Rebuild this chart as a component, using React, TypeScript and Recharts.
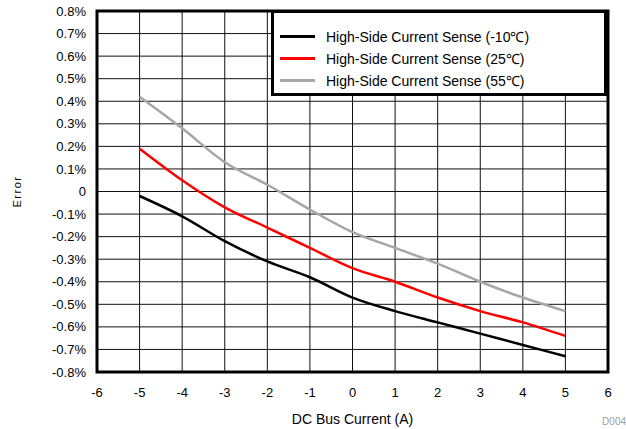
import React from 'react';
import {
  LineChart,
  Line,
  XAxis,
  YAxis,
  CartesianGrid,
  Legend,
  ReferenceArea,
  Label,
} from 'recharts';

// DC bus current (A)
const currents = [-5, -4, -3, -2, -1, 0, 1, 2, 3, 4, 5];

// error in %
const errMinus10 = [-0.02, -0.11, -0.22, -0.31, -0.38, -0.47, -0.53, -0.58, -0.63, -0.68, -0.73];
const err25 = [0.19, 0.05, -0.07, -0.16, -0.25, -0.34, -0.4, -0.47, -0.53, -0.58, -0.64];
const err55 = [0.42, 0.28, 0.13, 0.03, -0.08, -0.18, -0.25, -0.32, -0.4, -0.47, -0.53];

const xTicks = [-6, -5, -4, -3, -2, -1, 0, 1, 2, 3, 4, 5, 6];
const yTicks = [-0.8, -0.7, -0.6, -0.5, -0.4, -0.3, -0.2, -0.1, 0, 0.1, 0.2, 0.3, 0.4, 0.5, 0.6, 0.7, 0.8];

const seriesList = [
  { key: 'm10', name: 'High-Side Current Sense (-10℃)', color: '#000000', values: errMinus10 },
  { key: 'p25', name: 'High-Side Current Sense (25℃)', color: '#ff0000', values: err25 },
  { key: 'p55', name: 'High-Side Current Sense (55℃)', color: '#a6a6a6', values: err55 },
];

const FONT = '"Liberation Sans", Arial, sans-serif';

const rows = currents.map((c, i) => {
  const row: Record<string, number> = { current: c };
  seriesList.forEach(s => {
    row[s.key] = s.values[i];
  });
  return row;
});

const formatPct = (v: number) => {
  if (Math.abs(v) < 1e-9) return '0';
  return `${Number(v.toFixed(1))}%`;
};

const LegendBox = () => (
  <div
    style={{
      width: 336,
      height: 86,
      boxSizing: 'border-box',
      border: '3px solid #000',
      background: '#fff',
      paddingTop: 12,
      fontFamily: FONT,
    }}
  >
    {seriesList.map(s => (
      <div key={s.key} style={{ display: 'flex', alignItems: 'center', height: 22 }}>
        <div style={{ width: 35, height: 3, background: s.color, marginLeft: 6, marginRight: 11 }} />
        <span style={{ fontSize: 14, color: '#000', whiteSpace: 'nowrap' }}>{s.name}</span>
      </div>
    ))}
  </div>
);

const App: React.FC = () => {
  return (
    <div
      style={{
        position: 'absolute',
        left: 0,
        top: 0,
        width: 626,
        height: 429,
        background: '#fff',
        fontFamily: FONT,
      }}
    >
      <LineChart
        width={626}
        height={429}
        data={rows}
        margin={{ top: 11, right: 18, bottom: 0, left: 0 }}
      >
        <CartesianGrid stroke="#111" strokeWidth={1} horizontalValues={yTicks} verticalValues={xTicks} />
        <XAxis
          dataKey="current"
          type="number"
          domain={[-6, 6]}
          ticks={xTicks}
          height={57}
          axisLine={false}
          tickLine={false}
          tickSize={0}
          tickMargin={16}
          tick={{ fill: '#000', fontSize: 13, fontFamily: FONT }}
        >
          <Label
            value="DC Bus Current (A)"
            position="insideBottom"
            offset={5}
            style={{ fill: '#000', fontSize: 14, fontFamily: FONT }}
          />
        </XAxis>
        <YAxis
          type="number"
          domain={[-0.8, 0.8]}
          ticks={yTicks}
          width={97}
          axisLine={false}
          tickLine={false}
          tickSize={0}
          tickMargin={11}
          interval={0}
          tickFormatter={formatPct}
          tick={{ fill: '#000', fontSize: 13, fontFamily: FONT }}
        >
          <Label
            content={({ viewBox }: any) => {
              const cy = viewBox ? viewBox.y + viewBox.height / 2 : 192;
              return (
                <text
                  x={17}
                  y={cy}
                  transform={`rotate(-90, 17, ${cy})`}
                  textAnchor="middle"
                  dominantBaseline="central"
                  fill="#000"
                  fontSize={11}
                  letterSpacing={1.5}
                  fontFamily={FONT}
                >
                  Error
                </text>
              );
            }}
          />
        </YAxis>
        <ReferenceArea
          x1={-6}
          x2={6}
          y1={-0.8}
          y2={0.8}
          fill="none"
          fillOpacity={0}
          stroke="#000"
          strokeWidth={3}
          ifOverflow="visible"
        />
        {seriesList.map(s => (
          <Line
            key={s.key}
            dataKey={s.key}
            name={s.name}
            type="monotone"
            stroke={s.color}
            strokeWidth={2.5}
            dot={false}
            isAnimationActive={false}
          />
        ))}
        <Legend
          layout="horizontal"
          verticalAlign="middle"
          align="center"
          content={() => <LegendBox />}
          wrapperStyle={{ position: 'absolute', left: 271, top: 10, width: 338, height: 88 }}
        />
      </LineChart>
      <div
        style={{
          position: 'absolute',
          right: 0,
          top: 416,
          fontSize: 10,
          color: '#a0a0a0',
          fontFamily: FONT,
        }}
      >
        D004
      </div>
    </div>
  );
};

export default App;
